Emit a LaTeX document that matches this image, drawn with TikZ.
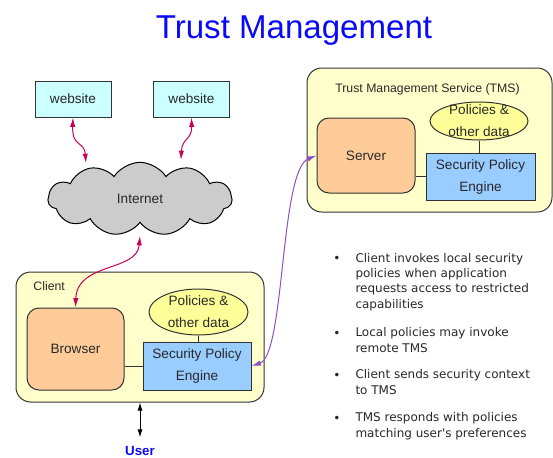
\documentclass[tikz,border=0pt]{standalone}
\usepackage{fontspec}
\setmainfont{Liberation Sans}
\newfontfamily\bulletfont{DejaVu Sans}
\usetikzlibrary{shapes.geometric,shapes.symbols,arrows.meta}

\definecolor{webcyan}{RGB}{204,255,255}
\definecolor{cloudgray}{RGB}{204,204,204}
\definecolor{boxyellow}{RGB}{255,255,204}
\definecolor{peach}{RGB}{255,204,153}
\definecolor{polyellow}{RGB}{255,255,153}
\definecolor{engblue}{RGB}{153,204,255}
\definecolor{linkred}{RGB}{204,0,85}
\definecolor{linkpurple}{RGB}{140,80,200}
\definecolor{titleblue}{RGB}{10,10,245}
\definecolor{textgray}{RGB}{40,40,40}

\tikzset{every picture/.style={line width=0.75pt}}
\tikzset{
  website/.style={draw=black!80, fill=webcyan, minimum width=57pt, minimum height=27pt, inner sep=0pt, text=textgray, font=\fontsize{10.2}{12}\selectfont},
  hostbox/.style={draw=black!80, fill=boxyellow, rounded corners=11pt, inner sep=0pt},
  appbox/.style={draw=black!80, fill=peach, rounded corners=9pt, inner sep=0pt, text=textgray, font=\fontsize{10.2}{12}\selectfont},
  policy/.style={ellipse, draw=black!80, fill=polyellow, inner sep=0pt},
  engine/.style={draw=black!80, fill=engblue, inner sep=0pt, align=center, text=textgray, font=\fontsize{10.2}{16.5}\selectfont},
  boxlabel/.style={inner sep=0pt, text=textgray, font=\fontsize{9.2}{11}\selectfont},
  weblink/.style={draw=linkred, {Latex[length=7pt,width=4pt]}-{Latex[length=7pt,width=4pt]}},
  tmslink/.style={draw=linkpurple, {Latex[length=7pt,width=4pt]}-{Latex[length=7pt,width=4pt]}},
  bulletitem/.style={anchor=base west, inner sep=0pt, align=left, text=textgray, font=\bulletfont\fontsize{9}{11.5}\selectfont},
  bulletdot/.style={anchor=base, inner sep=0pt, text=textgray, font=\bulletfont\fontsize{9}{11.5}\selectfont}
}

\begin{document}
\begin{tikzpicture}[x=0.75pt,y=0.75pt,yscale=-1,xscale=1]
\useasboundingbox (0,0) rectangle (553,457); %same size as the slide

% Text Node
\node[text=titleblue, font=\fontsize{24.8}{28}\selectfont] (title) at (294,31) {Trust Management};

%Shape: Rectangle
\node[website] (web1) at (73,99) {website};
%Shape: Rectangle
\node[website] (web2) at (191.5,99) {website};
%Shape: Cloud
\node[cloud, cloud puffs=11, cloud puff arc=115, aspect=2.5, draw=black, fill=cloudgray, minimum width=138pt, minimum height=55pt, inner sep=0pt, text=textgray, font=\fontsize{10.2}{12}\selectfont] (internet) at (140,199) {Internet};
% points on the cloud edge
\coordinate (inetA) at (86,163);
\coordinate (inetB) at (181,160);
\coordinate (inetC) at (140,236);

%Shape: Rounded Rect
\node[hostbox, minimum width=186pt, minimum height=97.5pt] (client) at (140,337) {};
% Text Node
\node[boxlabel, anchor=west] (clientlbl) at (33,286) {Client};
%Shape: Rounded Rect
\node[appbox, minimum width=72.75pt, minimum height=61.5pt] (browser) at (75.5,349) {Browser};
%Shape: Ellipse
\node[policy, minimum width=74.25pt, minimum height=34.5pt] (cpol) at (198.5,312) {};
% Text Node
\node[engine, draw=none, fill=none] (cpoltxt) at (cpol) {Policies \&\\other data};
%Shape: Rectangle
\node[engine, minimum width=81pt, minimum height=36pt] (ceng) at (197,366) {Security Policy\\Engine};

%Shape: Rounded Rect
\node[hostbox, minimum width=183.75pt, minimum height=108pt] (tms) at (429.5,140) {};
% Text Node
\node[boxlabel] (tmslbl) at (427.5,89) {Trust Management Service (TMS)};
%Shape: Rounded Rect
\node[appbox, minimum width=73.5pt, minimum height=56.25pt] (server) at (366,155.5) {Server};
%Shape: Ellipse
\node[policy, minimum width=73.5pt, minimum height=28.5pt] (tpol) at (479,121) {};
% Text Node
\node[engine, draw=none, fill=none] (tpoltxt) at (tpol) {Policies \&\\other data};
%Shape: Rectangle
\node[engine, minimum width=81.75pt, minimum height=35.25pt] (teng) at (480.5,176.5) {Security Policy\\Engine};

%Straight Lines
\draw[black!80] (cpol.south) -- (cpol.south |- ceng.north) ;
\draw[black!80] (ceng.west) -- (ceng.west -| browser.east) ;
\draw[black!80] (tpol.south) -- (tpol.south |- teng.north) ;
\draw[black!80] (teng.west) -- (teng.west -| server.east) ;

%Curve Lines
\draw[weblink] (web1.south) .. controls (72,148) and (84,140) .. (inetA) ;
\draw[weblink] (web2.south) .. controls (192,140) and (182,138) .. (inetB) ;
\draw[weblink] (inetC) .. controls (137,272) and (77,262) .. (browser.north) ;
\draw[tmslink] (ceng.east) .. controls (285,355) and (280,170) .. (server.west) ;

% Text Node
\node[text=titleblue, font=\bfseries\fontsize{10}{12}\selectfont] (user) at (140,451) {User};
%Straight Lines
\draw[{Latex[length=6pt,width=3.8pt]}-{Latex[length=6pt,width=3.8pt]}, shorten >=3pt] (client.south) -- (user.north) ;

% Text Node (base = last line)
\node[bulletdot] (dot1) at (337,262) {•};
\node[bulletitem] (item1) at (355,308) {Client invokes local security\\policies when application\\requests access to restricted\\capabilities};
\node[bulletdot] (dot2) at (337,337) {•};
\node[bulletitem] (item2) at (355,352) {Local policies may invoke\\remote TMS};
\node[bulletdot] (dot3) at (337,379) {•};
\node[bulletitem] (item3) at (355,394) {Client sends security context\\to TMS};
\node[bulletdot] (dot4) at (337,422) {•};
\node[bulletitem] (item4) at (355,437) {TMS responds with policies\\matching user's preferences};

\end{tikzpicture}
\end{document}
